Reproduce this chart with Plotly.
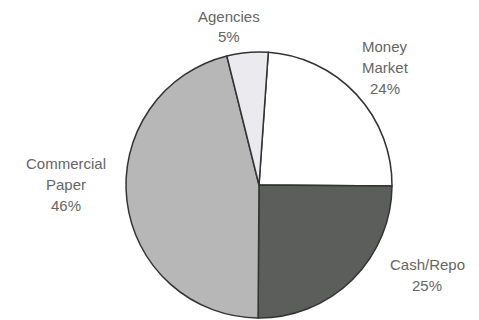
import plotly.graph_objects as go

# Data
labels = ["Money Market", "Cash/Repo", "Commercial Paper", "Agencies"]
values = [24, 25, 46, 5]
label_lines = [["Money", "Market"], ["Cash/Repo"], ["Commercial", "Paper"], ["Agencies"]]

colors = ["#ffffff", "#5b5e5b", "#b6b7b6", "#ebebef"]
# first-line anchor positions (pixels from top-left)
label_pos = [(385, 46), (427, 264), (66, 163), (229, 16)]
line_step = 21

W, H = 479, 320
fig = go.Figure(go.Pie(
    labels=labels,
    values=values,
    sort=False,
    direction="clockwise",
    rotation=4,
    textinfo="none",
    hoverinfo="label+percent",
    marker=dict(colors=colors, line=dict(color="#333333", width=1.5)),
    domain=dict(x=[126 / W, 392 / W], y=[2 / H, 268 / H]),
    showlegend=False,
))

annotations = []
for lines, v, (px, py) in zip(label_lines, values, label_pos):
    for i, t in enumerate(lines + [f"{v}%"]):
        annotations.append(dict(
            x=px / W, y=1 - (py + i * line_step) / H, xref="paper", yref="paper",
            text=t, showarrow=False,
            xanchor="center", yanchor="middle", align="center",
            font=dict(family="Liberation Sans, Arial, sans-serif", size=15, color="#666666"),
        ))

fig.update_layout(
    width=W, height=H,
    margin=dict(l=0, r=0, t=0, b=0),
    paper_bgcolor="white", plot_bgcolor="white",
    annotations=annotations,
)
fig.write_html("out.html")
